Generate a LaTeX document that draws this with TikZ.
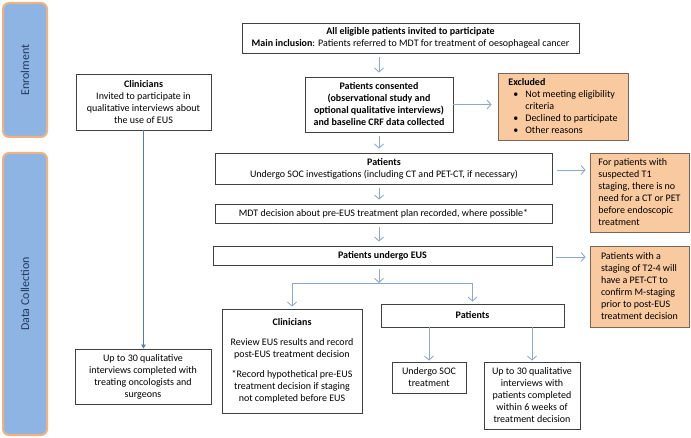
\documentclass[tikz,border=0pt]{standalone}
\usepackage{fontspec}
\setmainfont{Carlito}
\usetikzlibrary{arrows.meta}
\definecolor{sidefill}{HTML}{8EB4E3}
\definecolor{sideline}{HTML}{F2B27E}
\definecolor{sidetext}{HTML}{1F3A60}
\definecolor{orfill}{HTML}{F9C9A0}
\definecolor{orline}{HTML}{7B6656}
\definecolor{boxline}{HTML}{404040}
\definecolor{arrowc}{HTML}{8DA8C8}
\definecolor{bluearrow}{HTML}{4A7DBA}
\begin{document}
\begin{tikzpicture}[x=1pt,y=-1pt,
  side/.style={draw=sideline, line width=2pt, fill=sidefill, rounded corners=6pt},
  sidelabel/.style={rotate=90, text=sidetext, font=\fontsize{12}{14}\selectfont},
  box/.style={draw=boxline, line width=0.8pt, fill=white, align=center, inner xsep=2pt, inner ysep=1pt, font=\fontsize{10}{12}\selectfont},
  obox/.style={draw=orline, line width=0.8pt, fill=orfill, align=left, inner xsep=2pt, inner ysep=1pt, font=\fontsize{10}{12}\selectfont},
  garrow/.style={draw=arrowc, line width=0.9pt, -{Straight Barb[length=4pt,width=9pt]}, shorten >=4pt, shorten <=4pt},
  barrow/.style={draw=bluearrow, line width=0.9pt, -{Triangle[length=4pt,width=4.5pt]}}
]
\useasboundingbox (0,0) rectangle (691,438);
% sidebars
\node[side, minimum width=44, minimum height=134] (enrol) at (25,70) {};
\node[sidelabel] (enrolt) at (enrol.center) {Enrolment};
\node[side, minimum width=44, minimum height=282] (datac) at (25,294) {};
\node[sidelabel] (datact) at (datac.center) {Data Collection};
% main boxes
\node[box, minimum width=337, minimum height=30] (top) at (410.5,38)
  {\textbf{All eligible patients invited to participate}\\\textbf{Main inclusion}: Patients referred to MDT for treatment of oesophageal cancer};
\node[box, minimum width=148, minimum height=55] (consent) at (379,104.5)
  {\textbf{Patients consented}\\\textbf{(observational study and}\\\textbf{optional qualitative interviews)}\\\textbf{and baseline CRF data collected}};
\node[obox, minimum width=130, minimum height=67] (excl) at (563,106.5)
  {\textbf{Excluded}\\
   \hspace*{5pt}\makebox[12pt][l]{\textbullet}Not meeting eligibility\\
   \hspace*{17pt}criteria\\
   \hspace*{5pt}\makebox[12pt][l]{\textbullet}Declined to participate\\
   \hspace*{5pt}\makebox[12pt][l]{\textbullet}Other reasons};
\node[box, minimum width=135, minimum height=56] (clin1) at (143.5,102)
  {\textbf{Clinicians}\\Invited to participate in\\qualitative interviews about\\the use of EUS};
\node[box, minimum width=136, minimum height=55] (clin2) at (143,376.5)
  {Up to 30 qualitative\\interviews completed with\\treating oncologists and\\surgeons};
\node[box, minimum width=337, minimum height=31] (soc) at (384,168.5)
  {\textbf{Patients}\\Undergo SOC investigations (including CT and PET-CT, if necessary)};
\node[box, minimum width=337, minimum height=19] (mdt) at (383.5,213.5)
  {MDT decision about pre-EUS treatment plan recorded, where possible*};
\node[box, minimum width=339, minimum height=19] (eus) at (382.5,255.5)
  {\textbf{Patients undergo EUS}};
\node[obox, minimum width=99, minimum height=79] (t1) at (639.5,192.5)
  {For patients with\\suspected T1\\staging, there is no\\need for a CT or PET\\before endoscopic\\treatment};
\node[obox, minimum width=99, minimum height=81] (t24) at (639.5,286.5)
  {Patients with a\\staging of T2-4 will\\have a PET-CT to\\confirm M-staging\\prior to post-EUS\\treatment decision};
\node[box, minimum width=140, minimum height=104] (clin3) at (292,361)
  {\textbf{Clinicians}\\[8pt]Review EUS results and record\\post-EUS treatment decision\\[8pt]*Record hypothetical pre-EUS\\treatment decision if staging\\not completed before EUS};
\node[box, minimum width=183, minimum height=23] (pat) at (472.5,315.5)
  {\textbf{Patients}};
\node[box, minimum width=74, minimum height=31] (socT) at (429,377.5)
  {Undergo SOC\\treatment};
\node[box, minimum width=96, minimum height=67] (pint) at (532,395.5)
  {Up to 30 qualitative\\interviews with\\patients completed\\within 6 weeks of\\treatment decision};
% connectors
\coordinate (br) at (379,283);
\draw[garrow] (consent.north |- top.south) -- (consent.north);
\draw[garrow, shorten <=0pt, shorten >=6pt] (consent.east) -- (consent.east -| excl.west);
\draw[garrow] (consent.south) -- (consent.south |- soc.north);
\draw[garrow] (consent.south |- soc.south) -- (consent.south |- mdt.north);
\draw[garrow] (consent.south |- mdt.south) -- (consent.south |- eus.north);
\draw[garrow] (soc.east |- 0,170) -- (t1.west |- 0,170);
\draw[garrow] (eus.east |- 0,257) -- (t24.west |- 0,257);
\draw[garrow, shorten >=0pt] (consent.south |- eus.south) -- (br);
\draw[garrow, shorten <=0pt, shorten >=2pt] (br) -| (clin3.north);
\draw[garrow, shorten <=0pt, shorten >=2pt] (br) -| (pat.north);
\draw[garrow, shorten <=0pt, shorten >=1pt] (pat.south -| socT.north) -- (socT.north);
\draw[garrow, shorten <=0pt, shorten >=1pt] (pat.south -| pint.north) -- (pint.north);
\draw[barrow] (clin1.south) -- (clin1.south |- clin2.north);
\end{tikzpicture}
\end{document}
